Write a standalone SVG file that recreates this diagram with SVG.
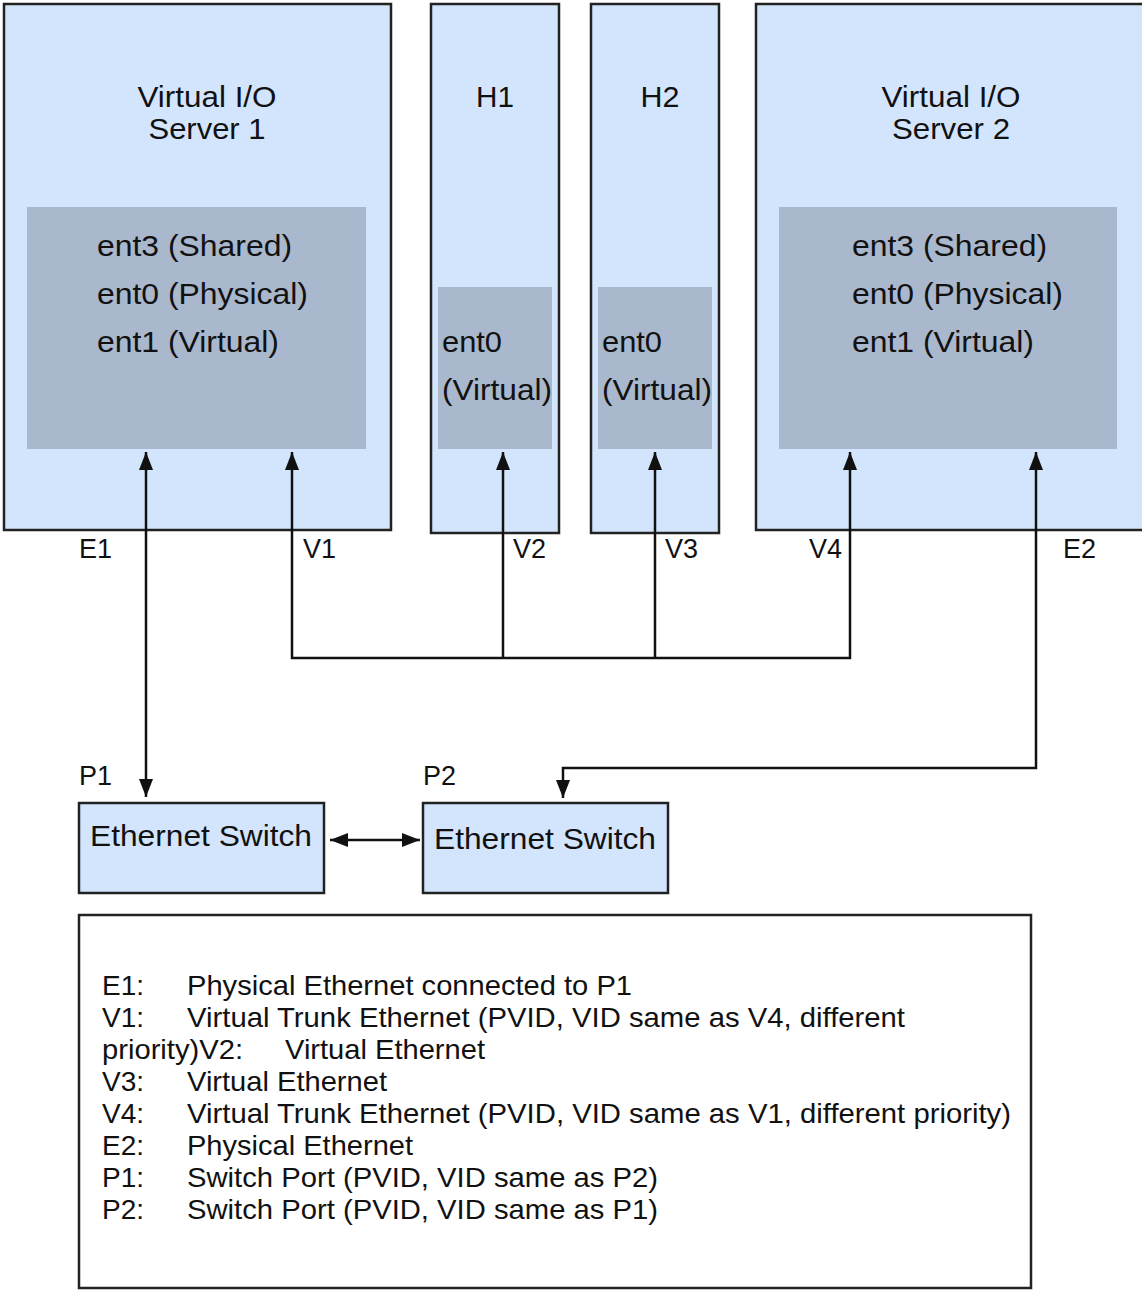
<svg xmlns="http://www.w3.org/2000/svg" width="1142" height="1291" viewBox="0 0 1142 1291">
<style>
.box{fill:#d3e5fc;stroke:#222;stroke-width:2.5}
.inner{fill:#a9b8cc;stroke:none}
.legend{fill:#fff;stroke:#222;stroke-width:2.5}
text{font-family:"Liberation Sans",Arial,sans-serif;fill:#111}
.t{font-size:29px}
.s{font-size:27px}
.l{font-size:28px}
.ln{fill:none;stroke:#111;stroke-width:2.5}
</style>
<defs>
<marker id="ah" viewBox="0 0 12 18" refX="12" refY="9" markerWidth="12" markerHeight="18" markerUnits="userSpaceOnUse" orient="auto-start-reverse">
<path d="M0,3 L12,9 L0,15 Z" fill="#111"/>
</marker>
<marker id="ahv" viewBox="0 0 18 14" refX="18" refY="7" markerWidth="18" markerHeight="14" markerUnits="userSpaceOnUse" orient="auto-start-reverse">
<path d="M0,0 L18,7 L0,14 Z" fill="#111"/>
</marker>
</defs>
<rect width="1142" height="1291" fill="#fff"/>
<g id="vios1">
<rect class="box" x="4" y="4" width="387" height="526"/>
<rect class="inner" x="27" y="207" width="339" height="242"/>
<text class="t" x="207" y="107" text-anchor="middle" textLength="139" lengthAdjust="spacingAndGlyphs">Virtual I/O</text>
<text class="t" x="207" y="139" text-anchor="middle" textLength="117" lengthAdjust="spacingAndGlyphs">Server 1</text>
<text class="t" x="97" y="256" textLength="195" lengthAdjust="spacingAndGlyphs">ent3 (Shared)</text>
<text class="t" x="97" y="304" textLength="211" lengthAdjust="spacingAndGlyphs">ent0 (Physical)</text>
<text class="t" x="97" y="352" textLength="182" lengthAdjust="spacingAndGlyphs">ent1 (Virtual)</text>
</g>
<g id="h1">
<rect class="box" x="431" y="4" width="128" height="529"/>
<rect class="inner" x="438" y="287" width="114" height="162"/>
<text class="t" x="495" y="107" text-anchor="middle" textLength="38" lengthAdjust="spacingAndGlyphs">H1</text>
<text class="t" x="442" y="352" textLength="60" lengthAdjust="spacingAndGlyphs">ent0</text>
<text class="t" x="442" y="400" textLength="110" lengthAdjust="spacingAndGlyphs">(Virtual)</text>
</g>
<g id="h2">
<rect class="box" x="591" y="4" width="128" height="529"/>
<rect class="inner" x="598" y="287" width="114" height="162"/>
<text class="t" x="660" y="107" text-anchor="middle" textLength="39" lengthAdjust="spacingAndGlyphs">H2</text>
<text class="t" x="602" y="352" textLength="60" lengthAdjust="spacingAndGlyphs">ent0</text>
<text class="t" x="602" y="400" textLength="110" lengthAdjust="spacingAndGlyphs">(Virtual)</text>
</g>
<g id="vios2">
<rect class="box" x="756" y="4" width="392" height="526"/>
<rect class="inner" x="779" y="207" width="338" height="242"/>
<text class="t" x="951" y="107" text-anchor="middle" textLength="139" lengthAdjust="spacingAndGlyphs">Virtual I/O</text>
<text class="t" x="951" y="139" text-anchor="middle" textLength="118" lengthAdjust="spacingAndGlyphs">Server 2</text>
<text class="t" x="852" y="256" textLength="195" lengthAdjust="spacingAndGlyphs">ent3 (Shared)</text>
<text class="t" x="852" y="304" textLength="211" lengthAdjust="spacingAndGlyphs">ent0 (Physical)</text>
<text class="t" x="852" y="352" textLength="182" lengthAdjust="spacingAndGlyphs">ent1 (Virtual)</text>
</g>
<g id="switch1">
<rect class="box" x="79" y="803" width="245" height="90"/>
<text class="t" x="90" y="846" textLength="222" lengthAdjust="spacingAndGlyphs">Ethernet Switch</text>
</g>
<g id="switch2">
<rect class="box" x="423" y="803" width="245" height="90"/>
<text class="t" x="434" y="849" textLength="222" lengthAdjust="spacingAndGlyphs">Ethernet Switch</text>
</g>
<g id="connectors">
<line class="ln" x1="146" y1="452" x2="146" y2="797" marker-start="url(#ahv)" marker-end="url(#ahv)"/>
<path class="ln" d="M292,452 V658 H850 V452" marker-start="url(#ahv)" marker-end="url(#ahv)"/>
<line class="ln" x1="503" y1="452" x2="503" y2="658" marker-start="url(#ahv)"/>
<line class="ln" x1="655" y1="452" x2="655" y2="658" marker-start="url(#ahv)"/>
<path class="ln" d="M1036,452 V768 H563 V798" marker-start="url(#ahv)" marker-end="url(#ahv)"/>
<line class="ln" x1="330" y1="840" x2="420" y2="840" marker-start="url(#ahv)" marker-end="url(#ahv)"/>
</g>
<g id="labels">
<text class="s" x="79" y="558">E1</text>
<text class="s" x="303" y="558">V1</text>
<text class="s" x="513" y="558">V2</text>
<text class="s" x="665" y="558">V3</text>
<text class="s" x="809" y="558">V4</text>
<text class="s" x="1063" y="558">E2</text>
<text class="s" x="79" y="785">P1</text>
<text class="s" x="423" y="785">P2</text>
</g>
<g id="legend">
<rect class="legend" x="79" y="915" width="952" height="373"/>
<text class="l" x="102" y="995">E1:</text><text class="l" x="187" y="995" textLength="445" lengthAdjust="spacingAndGlyphs">Physical Ethernet connected to P1</text>
<text class="l" x="102" y="1027">V1:</text><text class="l" x="187" y="1027" textLength="718" lengthAdjust="spacingAndGlyphs">Virtual Trunk Ethernet (PVID, VID same as V4, different</text>
<text class="l" x="102" y="1059" textLength="141" lengthAdjust="spacingAndGlyphs">priority)V2:</text><text class="l" x="285" y="1059" textLength="200" lengthAdjust="spacingAndGlyphs">Virtual Ethernet</text>
<text class="l" x="102" y="1091">V3:</text><text class="l" x="187" y="1091" textLength="200" lengthAdjust="spacingAndGlyphs">Virtual Ethernet</text>
<text class="l" x="102" y="1123">V4:</text><text class="l" x="187" y="1123" textLength="824" lengthAdjust="spacingAndGlyphs">Virtual Trunk Ethernet (PVID, VID same as V1, different priority)</text>
<text class="l" x="102" y="1155">E2:</text><text class="l" x="187" y="1155" textLength="226" lengthAdjust="spacingAndGlyphs">Physical Ethernet</text>
<text class="l" x="102" y="1187">P1:</text><text class="l" x="187" y="1187" textLength="471" lengthAdjust="spacingAndGlyphs">Switch Port (PVID, VID same as P2)</text>
<text class="l" x="102" y="1219">P2:</text><text class="l" x="187" y="1219" textLength="471" lengthAdjust="spacingAndGlyphs">Switch Port (PVID, VID same as P1)</text>
</g>
</svg>
